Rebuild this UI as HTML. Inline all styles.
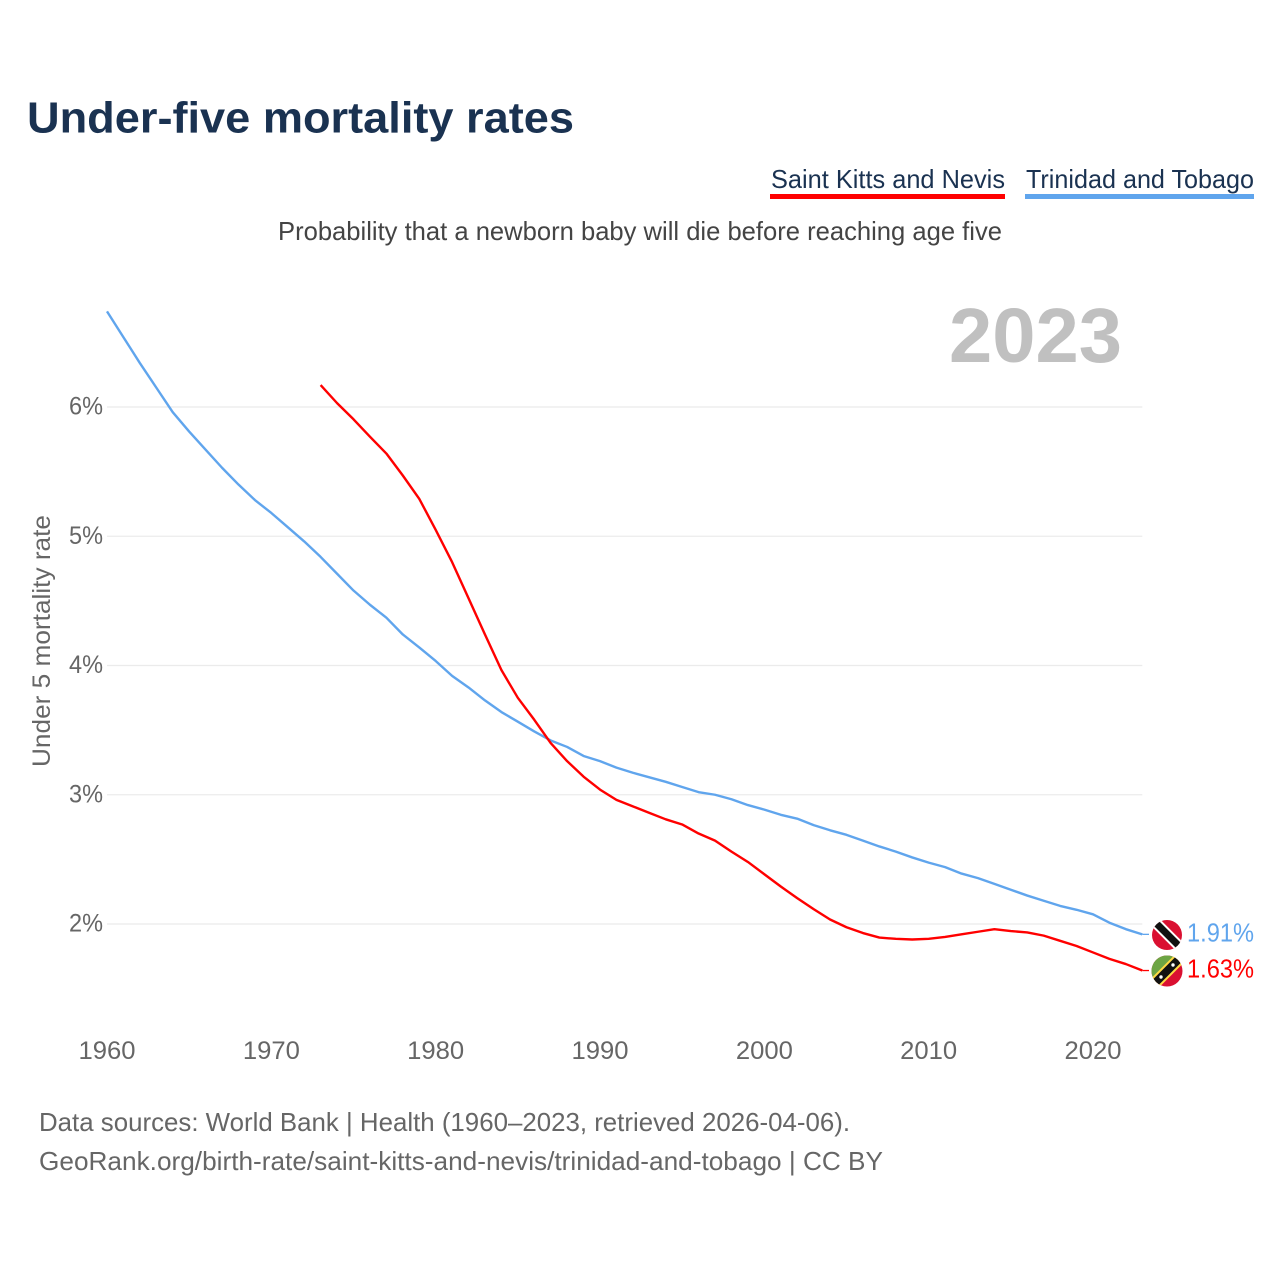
<!DOCTYPE html>
<html lang="en">
<head>
<meta charset="utf-8">
<title>Under-five mortality rates</title>
<style>
html,body{margin:0;padding:0;background:#fff;width:1280px;height:1280px;overflow:hidden}
svg{display:block;font-family:"Liberation Sans",sans-serif}
</style>
</head>
<body>
<svg id="chart" xmlns="http://www.w3.org/2000/svg" width="1280" height="1280" viewBox="0 0 1280 1280">
  <text x="27" y="132.5" font-size="44" font-weight="700" fill="#1a3251" textLength="547" lengthAdjust="spacingAndGlyphs">Under-five mortality rates</text>

  <g>
    <g>
      <text x="771" y="188" font-size="26" fill="#1a3251" textLength="234" lengthAdjust="spacingAndGlyphs">Saint Kitts and Nevis</text>
      <rect x="770" y="194" width="235" height="5" fill="#ff0000"/>
    </g>
    <g>
      <text x="1026" y="188" font-size="26" fill="#1a3251" textLength="228" lengthAdjust="spacingAndGlyphs">Trinidad and Tobago</text>
      <rect x="1025" y="194" width="229" height="5" fill="#60a5ed"/>
    </g>
  </g>

  <text x="278" y="240" font-size="26" fill="#444444" textLength="724" lengthAdjust="spacingAndGlyphs">Probability that a newborn baby will die before reaching age five</text>

  <text x="949" y="362" font-size="77" font-weight="700" fill="#c0c0c0" textLength="173" lengthAdjust="spacingAndGlyphs">2023</text>

  <text transform="translate(50,767) rotate(-90)" x="0" y="0" font-size="25" fill="#666666" textLength="252" lengthAdjust="spacingAndGlyphs">Under 5 mortality rate</text>

  <g id="grid"></g>
  <g id="y-ticks"></g>
  <g id="x-ticks"></g>
  <g id="series"></g>

  <defs>
    <clipPath id="flag-clip-tt"><circle cx="1167" cy="935" r="15"/></clipPath>
    <clipPath id="flag-clip-kn"><circle cx="1167" cy="971" r="15.5"/></clipPath>
  </defs>

  <g clip-path="url(#flag-clip-tt)">
    <rect x="1150" y="918" width="34" height="34" fill="#da1031"/>
    <line x1="1151" y1="918" x2="1185" y2="952" stroke="#ffffff" stroke-width="11"/>
    <line x1="1151" y1="918" x2="1185" y2="952" stroke="#111111" stroke-width="7"/>
  </g>

  <g clip-path="url(#flag-clip-kn)">
    <rect x="1150" y="954" width="34" height="34" fill="#da1031"/>
    <polygon points="1150,988 1150,954 1184,954" fill="#6da544"/>
    <line x1="1150" y1="988" x2="1184" y2="954" stroke="#ffda44" stroke-width="12"/>
    <line x1="1150" y1="988" x2="1184" y2="954" stroke="#111111" stroke-width="8"/>
    <circle cx="1161" cy="977" r="1.7" fill="#ffffff"/>
    <circle cx="1173" cy="965" r="1.7" fill="#ffffff"/>
  </g>

  <text x="1187" y="941.5" font-size="26" fill="#60a5ed" textLength="67" lengthAdjust="spacingAndGlyphs" id="end-label-tt"></text>
  <text x="1187" y="977.5" font-size="26" fill="#ff0000" textLength="67" lengthAdjust="spacingAndGlyphs" id="end-label-kn"></text>

  <text x="39" y="1131" font-size="26" fill="#666666" textLength="811" lengthAdjust="spacingAndGlyphs">Data sources: World Bank | Health (1960–2023, retrieved 2026-04-06).</text>
  <text x="39" y="1170" font-size="26" fill="#666666" textLength="844" lengthAdjust="spacingAndGlyphs">GeoRank.org/birth-rate/saint-kitts-and-nevis/trinidad-and-tobago | CC BY</text>
</svg>

<script>
const yTickValues = [2, 3, 4, 5, 6];
const xTickYears = [1960, 1970, 1980, 1990, 2000, 2010, 2020];
const trinidadStartYear = 1960;
const kittsStartYear = 1973;
const trinidadValues = [6.74, 6.54, 6.34, 6.15, 5.96, 5.81, 5.67, 5.53, 5.40, 5.28,
  5.18, 5.07, 4.96, 4.84, 4.71, 4.58, 4.47, 4.37, 4.24, 4.14,
  4.035, 3.92, 3.83, 3.73, 3.64, 3.565, 3.49, 3.42, 3.37, 3.30,
  3.26, 3.21, 3.17, 3.135, 3.10, 3.06, 3.02, 3.00, 2.965, 2.92,
  2.885, 2.845, 2.815, 2.765, 2.725, 2.69, 2.645, 2.60, 2.56, 2.515,
  2.475, 2.44, 2.39, 2.355, 2.31, 2.265, 2.22, 2.18, 2.14, 2.11,
  2.075, 2.01, 1.96, 1.92];
const kittsValues = [6.17, 6.03, 5.905, 5.77, 5.64, 5.47, 5.29,
  5.05, 4.80, 4.52, 4.24, 3.965, 3.75, 3.58, 3.40, 3.26, 3.14,
  3.04, 2.96, 2.91, 2.86, 2.81, 2.77, 2.70, 2.645, 2.56, 2.48,
  2.385, 2.29, 2.20, 2.115, 2.035, 1.975, 1.93, 1.895, 1.885, 1.88,
  1.885, 1.90, 1.92, 1.94, 1.96, 1.945, 1.935, 1.91, 1.87, 1.83,
  1.78, 1.73, 1.69, 1.64];
const endLabels = ['1.91%', '1.63%'];

const SVG_NS = 'http://www.w3.org/2000/svg';
const xScale = function (year) { return 107 + (year - 1960) * (1093 - 107) / 60; };
const yScale = function (value) { return 924 - (value - 2) * (924 - 407) / 4; };
const gridLeft = xScale(1960);
const gridRight = xScale(2023);
const leaderEnd = 1149;

const gridGroup = document.getElementById('grid');
const yTickGroup = document.getElementById('y-ticks');
const xTickGroup = document.getElementById('x-ticks');
const seriesGroup = document.getElementById('series');

yTickValues.forEach(function (v) {
  const line = document.createElementNS(SVG_NS, 'line');
  
  
  line.setAttribute('x1', gridLeft);
  line.setAttribute('x2', gridRight);
  line.setAttribute('y1', yScale(v));
  line.setAttribute('y2', yScale(v));
  line.setAttribute('stroke', '#ebebeb');
  line.setAttribute('stroke-width', '1.3');
  gridGroup.appendChild(line);

  const label = document.createElementNS(SVG_NS, 'text');
  
  
  label.setAttribute('x', 69);
  label.setAttribute('y', yScale(v) + 7.5);
  label.setAttribute('font-size', '25');
  label.setAttribute('fill', '#666666');
  label.setAttribute('textLength', '34');
  label.setAttribute('lengthAdjust', 'spacingAndGlyphs');
  label.textContent = v + '%';
  yTickGroup.appendChild(label);
});

xTickYears.forEach(function (year) {
  const label = document.createElementNS(SVG_NS, 'text');
  
  
  label.setAttribute('x', xScale(year) - 28.5);
  label.setAttribute('y', 1059);
  label.setAttribute('font-size', '25');
  label.setAttribute('fill', '#666666');
  label.setAttribute('textLength', '57');
  label.setAttribute('lengthAdjust', 'spacingAndGlyphs');
  label.textContent = year;
  xTickGroup.appendChild(label);
});

function linePoints(values, startYear) {
  return values.map(function (v, i) {
    return xScale(startYear + i).toFixed(2) + ',' + yScale(v).toFixed(2);
  }).join(' ');
}

const trinidadLine = document.createElementNS(SVG_NS, 'polyline');


trinidadLine.setAttribute('points', linePoints(trinidadValues, trinidadStartYear));
trinidadLine.setAttribute('fill', 'none');
trinidadLine.setAttribute('stroke', '#60a5ed');
trinidadLine.setAttribute('stroke-width', '2.4');
trinidadLine.setAttribute('stroke-linejoin', 'round');
seriesGroup.appendChild(trinidadLine);

const kittsLine = document.createElementNS(SVG_NS, 'polyline');


kittsLine.setAttribute('points', linePoints(kittsValues, kittsStartYear));
kittsLine.setAttribute('fill', 'none');
kittsLine.setAttribute('stroke', '#ff0000');
kittsLine.setAttribute('stroke-width', '2.4');
kittsLine.setAttribute('stroke-linejoin', 'round');
seriesGroup.appendChild(kittsLine);

const trinidadLeader = document.createElementNS(SVG_NS, 'line');


trinidadLeader.setAttribute('x1', gridRight);
trinidadLeader.setAttribute('x2', leaderEnd);
trinidadLeader.setAttribute('y1', yScale(trinidadValues[trinidadValues.length - 1]));
trinidadLeader.setAttribute('y2', yScale(trinidadValues[trinidadValues.length - 1]));
trinidadLeader.setAttribute('stroke', '#60a5ed');
trinidadLeader.setAttribute('stroke-width', '1.3');
seriesGroup.appendChild(trinidadLeader);

const kittsLeader = document.createElementNS(SVG_NS, 'line');


kittsLeader.setAttribute('x1', gridRight);
kittsLeader.setAttribute('x2', leaderEnd);
kittsLeader.setAttribute('y1', yScale(kittsValues[kittsValues.length - 1]));
kittsLeader.setAttribute('y2', yScale(kittsValues[kittsValues.length - 1]));
kittsLeader.setAttribute('stroke', '#ff0000');
kittsLeader.setAttribute('stroke-width', '1.3');
seriesGroup.appendChild(kittsLeader);

document.getElementById('end-label-tt').textContent = endLabels[0];
document.getElementById('end-label-kn').textContent = endLabels[1];
</script>
</body>
</html>
